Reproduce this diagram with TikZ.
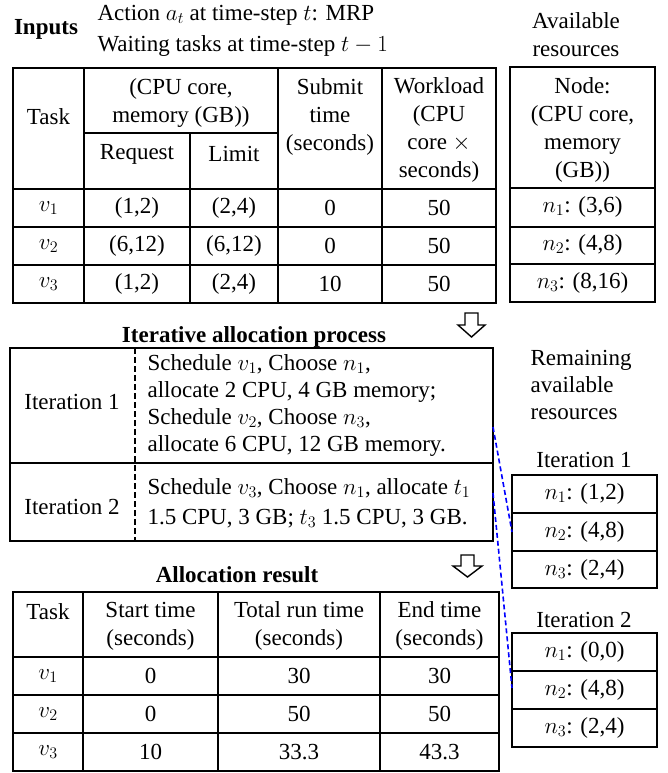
\RequirePackage{fix-cm}
\documentclass[tikz,border=0pt]{standalone}
\usepackage{fontspec}
\setmainfont{Liberation Serif}

\tikzset{
  txt/.style={font=\rmfamily\fontsize{23}{28}\selectfont, inner sep=0pt, align=center},
  ttl/.style={txt, font=\rmfamily\fontsize{23}{28}\selectfont\bfseries},
  hollow/.style={line width=1.4pt, line join=miter},
  blueline/.style={draw=blue, line width=1.6pt, dash pattern=on 5pt off 3pt},
}

\begin{document}
\begin{tikzpicture}[x=1pt, y=-1pt, line width=1.2pt]
        \useasboundingbox (0,0) rectangle (667,773);

        % inputs
        \node[ttl] (inputs) at (46,29) {Inputs};
        \node[txt, anchor=west] (action) at (97,15) {Action $a_t$ at time-step $t$: MRP};
        \node[txt, anchor=west] (waiting) at (97,46) {Waiting tasks at time-step $t-1$};
        \node[txt] (avail) at (576,35) {Available\\resources};

        \draw (13,68) rectangle (496,303);
        \draw (13,189) -- (496,189) (13,227) -- (496,227) (13,265) -- (496,265);
        \draw (84,68) -- (84,303) (190,133) -- (190,303) (278,68) -- (278,303) (382,68) -- (382,303);
        \draw (84,133) -- (278,133);
        \node[txt] (h-task) at (48.5,117) {Task};
        \node[txt] (h-cpu) at (181,103.5) {(CPU core,\\memory (GB))};
        \node[txt] (h-req) at (137,154) {Request};
        \node[txt] (h-lim) at (234,154) {Limit};
        \node[txt] (h-sub) at (330,117) {Submit\\time\\(seconds)};
        \node[txt] (h-wl) at (439,130) {Workload\\(CPU\\core $\times$\\seconds)};
        \foreach \rq/\lm/\sb [count=\i] in {{(1,2)}/{(2,4)}/0, {(6,12)}/{(6,12)}/0, {(1,2)}/{(2,4)}/10} {
            \node[txt] (in-\i-1) at (48.5,{170+38*\i}) {$v_\i$};
            \node[txt] (in-\i-2) at (137,{170+38*\i}) {\rq};
            \node[txt] (in-\i-3) at (234,{170+38*\i}) {\lm};
            \node[txt] (in-\i-4) at (330,{170+38*\i}) {\sb};
            \node[txt] (in-\i-5) at (439,{170+38*\i}) {50};
        }

        \draw (510,67) rectangle (655,302);
        \draw (510,188) -- (655,188) (510,227) -- (655,227) (510,264) -- (655,264);
        \node[txt] (h-node) at (582.5,130) {Node:\\(CPU core,\\memory\\(GB))};
        \foreach \res [count=\i] in {{(3,6)}, {(4,8)}, {(8,16)}} {
            \node[txt] (av-\i) at (582.5,{169+38*\i}) {$n_\i$: \res};
        }

        % iterations
        \draw[hollow] (465,313) -- (478,313) -- (478,325) -- (485,325) -- (471.5,337) -- (458,325) -- (465,325) -- cycle;
        \node[ttl] (iter) at (254,337) {Iterative allocation process};
        \draw (10,348) rectangle (493,541);
        \draw (10,463) -- (493,463);
        \draw[dash pattern=on 6pt off 3pt] (135,348) -- (135,541);
        \node[txt] (it-1) at (72,402) {Iteration 1};
        \node[txt] (it-2) at (72,507) {Iteration 2};
        \node[txt, align=left, anchor=west, font=\rmfamily\fontsize{23}{27}\selectfont] (step-1) at (147,405.5)
            {Schedule $v_1$, Choose $n_1$,\\allocate 2 CPU, 4 GB memory;\\Schedule $v_2$, Choose $n_3$,\\allocate 6 CPU, 12 GB memory.};
        \node[txt, align=left, anchor=west, font=\rmfamily\fontsize{23}{30}\selectfont] (step-2) at (147,503)
            {Schedule $v_3$, Choose $n_1$, allocate $t_1$\\1.5 CPU, 3 GB; $t_3$ 1.5 CPU, 3 GB.};

        % remaining resources
        \node[txt, align=left, anchor=west, font=\rmfamily\fontsize{23}{27}\selectfont] (remain) at (530,385) {Remaining\\available\\resources};
        \node[txt] (rem-1) at (584,460) {Iteration 1};
        \draw (512,475) rectangle (657,588);
        \draw (512,513) -- (657,513) (512,551) -- (657,551);
        \foreach \res [count=\i] in {{(1,2)}, {(4,8)}, {(2,4)}} {
            \node[txt] (r1-\i) at (584.5,{456+38*\i}) {$n_\i$: \res};
        }
        \node[txt] (rem-2) at (584,620) {Iteration 2};
        \draw (512,633) rectangle (657,747);
        \draw (512,671) -- (657,671) (512,709) -- (657,709);
        \foreach \res [count=\i] in {{(0,0)}, {(4,8)}, {(2,4)}} {
            \node[txt] (r2-\i) at (584.5,{614+38*\i}) {$n_\i$: \res};
        }
        \coordinate (it1-end) at (493,427);
        \coordinate (it2-end) at (493,493);
        \coordinate (r1-link) at (512,532);
        \coordinate (r2-link) at (512,688);
        \draw[blueline] (it1-end) -- (r1-link);
        \draw[blueline] (it2-end) -- (r2-link);

        % result
        \draw[hollow] (461,555) -- (474,555) -- (474,566) -- (482,566) -- (467.5,577) -- (453,566) -- (461,566) -- cycle;
        \node[ttl] (result) at (237,575) {Allocation result};
        \draw (13,592) rectangle (499,771);
        \draw (13,657) -- (499,657) (13,695) -- (499,695) (13,733) -- (499,733);
        \draw (83,592) -- (83,771) (218,592) -- (218,771) (380,592) -- (380,771);
        \node[txt] (o-task) at (48,612) {Task};
        \node[txt] (o-start) at (150.5,626) {Start time\\(seconds)};
        \node[txt] (o-run) at (299,626) {Total run time\\(seconds)};
        \node[txt] (o-end) at (439.5,626) {End time\\(seconds)};
        \foreach \st/\rt/\et [count=\i] in {0/30/30, 0/50/50, 10/33.3/43.3} {
            \node[txt] (out-\i-1) at (48,{638+38*\i}) {$v_\i$};
            \node[txt] (out-\i-2) at (150.5,{638+38*\i}) {\st};
            \node[txt] (out-\i-3) at (299,{638+38*\i}) {\rt};
            \node[txt] (out-\i-4) at (439.5,{638+38*\i}) {\et};
        }
    \end{tikzpicture}
\end{document}
